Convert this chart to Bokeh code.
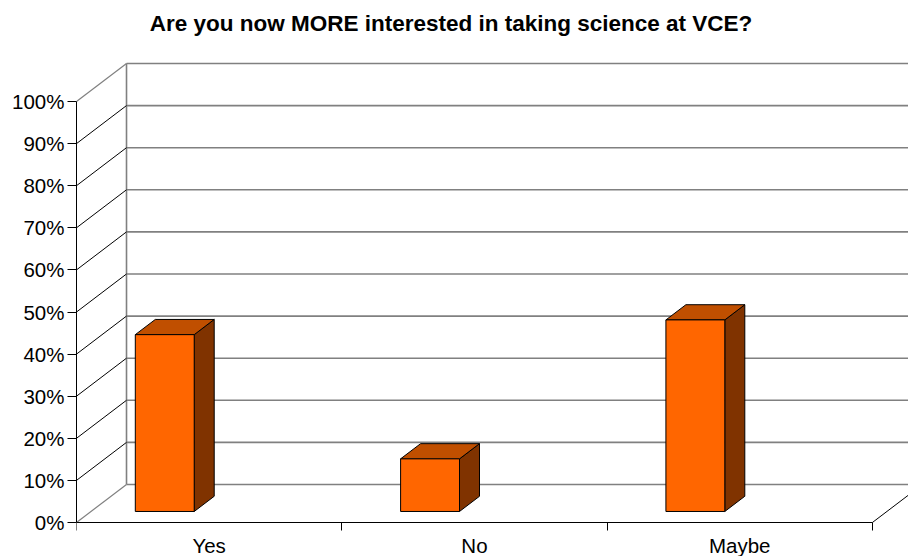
import numpy as np
from bokeh.plotting import figure
from bokeh.models import Range1d, FixedTicker, PrintfTickFormatter, Label, LinearAxis
from bokeh.embed import file_html
from bokeh.resources import INLINE

# Survey answers and their share of respondents (%)
categories = ["Yes", "No", "Maybe"]
shares = [42.0, 12.5, 45.5]
pct_ticks = list(range(0, 101, 10))

FONT = "Liberation Sans"

# Oblique 3-D projection: a point at depth d (0 = front, 1 = back wall)
# is shifted right by d*DEPTH_X category units and up by d*DEPTH_Y percent.
DEPTH_X = 0.1885
DEPTH_Y = 9.03
BAR_LEFT = 0.167      # bar's left edge inside its category slot
BAR_WIDTH = 0.222     # bar width as a fraction of the slot
BAR_FRONT = 0.29      # depth of the bar's front face
BAR_BACK = 0.69       # depth of the bar's back face

n = len(categories)


def proj(x, y, d):
    return x + d * DEPTH_X, y + d * DEPTH_Y


# plot area: 265.3 px per category, 4.21 px per percent
p = figure(width=908, height=556, output_backend="svg", toolbar_location=None,
           x_range=Range1d(0, 832 / 265.3), y_range=Range1d(-34 / 4.21, 522 / 4.21),
           x_axis_type=None, y_axis_type=None,
           min_border=0, min_border_left=76)
p.outline_line_color = None
p.background_fill_color = "white"
p.border_fill_color = "white"

# --- walls -------------------------------------------------------------
GRID = "#808080"
# back wall horizontal gridlines (0% line is the floor's back edge)
bx, by = [], []
for t in pct_ticks:
    x0, y0 = proj(0, t, 1)
    x1, y1 = proj(n, t, 1)
    bx.append([x0, x1])
    by.append([y0, y1])
p.multi_line(bx, by, line_color=GRID, line_width=1.6)

# back wall left edge
x0, y0 = proj(0, 0, 1)
x1, y1 = proj(0, 100, 1)
p.line([x0, x1], [y0, y1], line_color=GRID, line_width=1.6)

# side wall gridlines running front to back
sx_in, sy_in, sx_edge, sy_edge = [], [], [], []
for t in pct_ticks:
    a = proj(0, t, 0)
    b = proj(0, t, 1)
    if t in (pct_ticks[0], pct_ticks[-1]):
        sx_edge.append([a[0], b[0]])
        sy_edge.append([a[1], b[1]])
    else:
        sx_in.append([a[0], b[0]])
        sy_in.append([a[1], b[1]])
p.multi_line(sx_in, sy_in, line_color="black", line_width=1)
p.multi_line(sx_edge, sy_edge, line_color=GRID, line_width=1.2)

# floor right edge
a = proj(n, 0, 0)
b = proj(n, 0, 1)
p.line([a[0], b[0]], [a[1], b[1]], line_color="black", line_width=1)

# --- bars --------------------------------------------------------------
front_xs, front_ys, side_xs, side_ys, top_xs, top_ys = [], [], [], [], [], []
for i, v in enumerate(shares):
    xl = i + BAR_LEFT
    xr = xl + BAR_WIDTH
    corners_front = [proj(xl, 0, BAR_FRONT), proj(xr, 0, BAR_FRONT),
                     proj(xr, v, BAR_FRONT), proj(xl, v, BAR_FRONT)]
    corners_side = [proj(xr, 0, BAR_FRONT), proj(xr, 0, BAR_BACK),
                    proj(xr, v, BAR_BACK), proj(xr, v, BAR_FRONT)]
    corners_top = [proj(xl, v, BAR_FRONT), proj(xr, v, BAR_FRONT),
                   proj(xr, v, BAR_BACK), proj(xl, v, BAR_BACK)]
    for cs, lx, ly in ((corners_front, front_xs, front_ys),
                       (corners_side, side_xs, side_ys),
                       (corners_top, top_xs, top_ys)):
        lx.append([c[0] for c in cs])
        ly.append([c[1] for c in cs])

p.patches(side_xs, side_ys, fill_color="#803300", line_color="black", line_width=1)
p.patches(top_xs, top_ys, fill_color="#C04F00", line_color="black", line_width=1)
p.patches(front_xs, front_ys, fill_color="#FF6600", line_color="black", line_width=1)

# --- axes --------------------------------------------------------------
yaxis = LinearAxis(ticker=FixedTicker(ticks=pct_ticks, minor_ticks=[]),
                   formatter=PrintfTickFormatter(format="%d%%"),
                   bounds=(0, 100))
yaxis.axis_line_color = "black"
yaxis.major_tick_line_color = "black"
yaxis.major_tick_out = 9
yaxis.major_tick_in = 0
yaxis.major_label_standoff = 3
yaxis.major_label_text_font = FONT
yaxis.major_label_text_font_size = "20.5px"
yaxis.major_label_text_color = "black"
p.add_layout(yaxis, "left")

# category axis sits on the floor's front edge (0%)
centers = [i + 0.5 for i in range(n)]
xaxis = LinearAxis(ticker=FixedTicker(ticks=centers, minor_ticks=list(range(n + 1))),
                   major_label_overrides={c: lab for c, lab in zip(centers, categories)},
                   bounds=(0, n), fixed_location=0)
xaxis.axis_line_color = "black"
xaxis.major_tick_line_color = None
xaxis.major_tick_out = 0
xaxis.major_tick_in = 0
xaxis.minor_tick_line_color = "black"
xaxis.minor_tick_out = 8
xaxis.minor_tick_in = 0
xaxis.major_label_standoff = 3
xaxis.major_label_text_font = FONT
xaxis.major_label_text_font_size = "20.5px"
xaxis.major_label_text_color = "black"
p.add_layout(xaxis, "below")

# --- title -------------------------------------------------------------
title = Label(x=450.5 - 76, y=533, x_units="screen", y_units="screen",
              text="Are you now MORE interested in taking science at VCE?",
              text_align="center", text_baseline="alphabetic",
              text_font=FONT, text_font_style="bold", text_font_size="22.5px",
              text_color="black")
p.add_layout(title)

open("out.html", "w").write(file_html(p, INLINE))
